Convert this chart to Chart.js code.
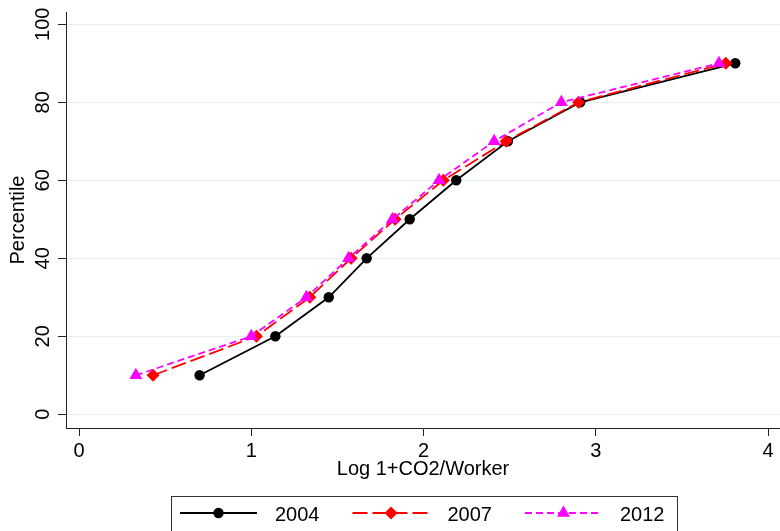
<!DOCTYPE html>
<html>
<head>
<meta charset="utf-8">
<script src="https://cdn.jsdelivr.net/npm/chart.js@4/dist/chart.umd.min.js"></script>
<style>
  html, body { margin: 0; padding: 0; background: #fff; }
  #wrap { width: 780px; height: 531px; position: relative; }
</style>
</head>
<body>
<div id="wrap"><canvas id="pctChart"></canvas></div>
<script>
// Values
const percentiles = [10, 20, 30, 40, 50, 60, 70, 80, 90];
const x2004 = [0.70, 1.14, 1.45, 1.67, 1.92, 2.19, 2.49, 2.91, 3.81];
const x2007 = [0.43, 1.03, 1.34, 1.58, 1.835, 2.115, 2.48, 2.90, 3.755];
const x2012 = [0.33, 1.00, 1.32, 1.565, 1.82, 2.09, 2.41, 2.80, 3.715];
const seriesNames = ['2004', '2007', '2012'];
const xTicks = [0, 1, 2, 3, 4];
const yTicks = [0, 20, 40, 60, 80, 100];

const FONT = '"Liberation Sans", Arial, sans-serif';
Chart.defaults.font.family = FONT;
Chart.defaults.color = '#000';

function toPoints(xs) {
  return xs.map((x, i) => ({ x: x, y: percentiles[i] }));
}

// y tick labels are rotated, Stata style
const yTickLabels = {
  id: 'yTickLabels',
  afterDraw(chart) {
    const { ctx, scales: { y } } = chart;
    ctx.save();
    ctx.font = '20px ' + FONT;
    ctx.fillStyle = '#000';
    ctx.textAlign = 'center';
    ctx.textBaseline = 'middle';
    yTicks.forEach(v => {
      ctx.save();
      ctx.translate(y.right - 23, y.getPixelForValue(v));
      ctx.rotate(-Math.PI / 2);
      ctx.fillText(String(v), 0, 0);
      ctx.restore();
    });
    ctx.restore();
  }
};

// boxed legend under the plot, line + marker per series
const boxLegend = {
  id: 'boxLegend',
  afterDraw(chart) {
    const ctx = chart.ctx;
    const left = 171, right = 677, top = 496;
    ctx.save();
    ctx.strokeStyle = '#333';
    ctx.lineWidth = 1;
    ctx.strokeRect(left + 0.5, top + 0.5, right - left, 60);
    chart.data.datasets.forEach((ds, i) => {
      const x0 = 180 + i * 172.5;
      const ly = 513;
      ctx.save();
      ctx.strokeStyle = ds.borderColor;
      ctx.lineWidth = ds.borderWidth;
      ctx.setLineDash(ds.borderDash || []);
      ctx.beginPath();
      ctx.moveTo(x0, ly);
      ctx.lineTo(x0 + 77, ly);
      ctx.stroke();
      ctx.setLineDash([]);
      ctx.fillStyle = ds.pointBackgroundColor;
      ctx.strokeStyle = ds.pointBorderColor;
      Chart.helpers.drawPoint(ctx, {
        pointStyle: ds.pointStyle, radius: ds.pointRadius, rotation: 0, borderWidth: 0
      }, x0 + 38.5, ly);
      ctx.restore();
      ctx.fillStyle = '#000';
      ctx.font = '20px ' + FONT;
      ctx.textAlign = 'left';
      ctx.textBaseline = 'middle';
      ctx.fillText(ds.label, x0 + 95, ly + 2);
    });
    ctx.restore();
  }
};

const ctx = document.getElementById('pctChart').getContext('2d');
const pctChart = new Chart(ctx, {
  type: 'line',
  data: {
    datasets: [{
      label: seriesNames[0],
      data: toPoints(x2004),
      borderColor: '#000000',
      pointBackgroundColor: '#000000',
      pointBorderColor: '#000000',
      borderWidth: 1.8,
      pointStyle: 'circle',
      pointRadius: 5.2,
      pointBorderWidth: 0,
      order: 3
    }, {
      label: seriesNames[1],
      data: toPoints(x2007),
      borderColor: '#ff0000',
      pointBackgroundColor: '#ff0000',
      pointBorderColor: '#ff0000',
      borderWidth: 1.8,
      borderDash: [15, 5],
      pointStyle: 'rectRot',
      pointRadius: 6.5,
      pointBorderWidth: 0,
      order: 2
    }, {
      label: seriesNames[2],
      data: toPoints(x2012),
      borderColor: '#ff00ff',
      pointBackgroundColor: '#ff00ff',
      pointBorderColor: '#ff00ff',
      borderWidth: 1.8,
      borderDash: [7, 4],
      pointStyle: 'triangle',
      pointRadius: 7.5,
      pointBorderWidth: 0,
      order: 1
    }]
  },
  options: {
    responsive: true,
    maintainAspectRatio: false,
    animation: false,
    layout: { autoPadding: false, padding: { left: 0, right: 0, top: 12, bottom: 50 } },
    plugins: {
      legend: { display: false },
      tooltip: { enabled: false }
    },
    elements: { line: { tension: 0 } },
    scales: {
      x: {
        type: 'linear',
        min: -0.0755,
        max: 4.0696,
        afterBuildTicks: axis => { axis.ticks = xTicks.map(v => ({ value: v })); },
        afterFit: axis => {
          axis.height = 53;
          axis.paddingLeft = 0;
          axis.paddingRight = 0;
        },
        grid: { drawOnChartArea: false, drawTicks: true, tickLength: 8, tickColor: '#222', lineWidth: 1 },
        border: { display: true, color: '#222', width: 1 },
        ticks: { font: { size: 20 }, color: '#000', padding: 3, maxRotation: 0 },
        title: {
          display: true,
          text: 'Log 1+CO2/Worker',
          font: { size: 20 },
          color: '#000',
          padding: { top: 0, bottom: 0 }
        }
      },
      y: {
        min: -3.52,
        max: 103.15,
        afterBuildTicks: axis => { axis.ticks = yTicks.map(v => ({ value: v })); },
        afterFit: axis => {
          axis.width = 66;
          axis.paddingTop = 0;
          axis.paddingBottom = 0;
        },
        grid: { color: '#e8eff1', lineWidth: 1, drawTicks: true, tickLength: 8, tickColor: '#222' },
        border: { display: true, color: '#222', width: 1 },
        ticks: { display: false },
        title: {
          display: true,
          text: 'Percentile',
          font: { size: 20 },
          color: '#000',
          padding: { top: 6, bottom: 0 }
        }
      }
    }
  },
  plugins: [yTickLabels, boxLegend]
});
</script>
</body>
</html>
